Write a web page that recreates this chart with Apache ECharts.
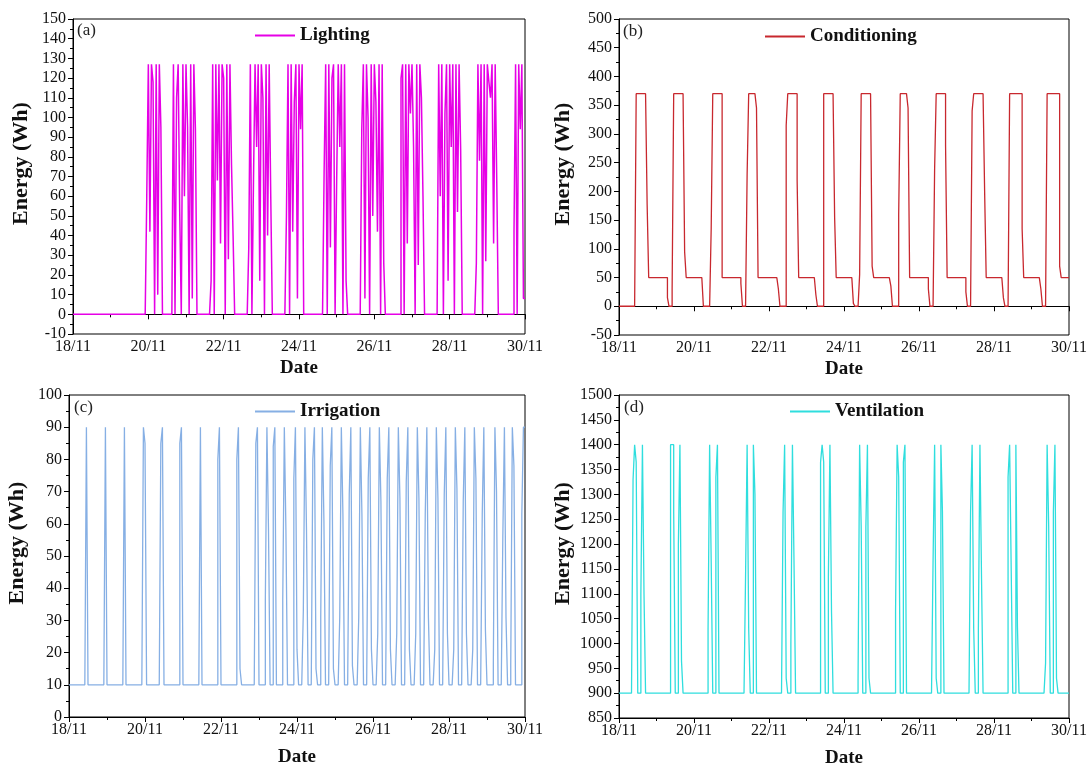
<!DOCTYPE html>
<html><head><meta charset="utf-8">
<script src="https://cdn.jsdelivr.net/npm/echarts@6/dist/echarts.min.js"></script>
<style>html,body{margin:0;padding:0;background:#fff}#c{width:1091px;height:765px}</style>
</head><body><div id="c"></div>
<script>
// ---- tick labels (x axis: days from 18/11, every 2 days) ----
const xTickLabels = ['18/11','20/11','22/11','24/11','26/11','28/11','30/11'];

// ---- hourly energy values (Wh), one row per day 18/11 .. 29/11, hours 0..23 ----
const lighting = [
  [0,0,0,0,0,0,0,0,0,0,0,0,0,0,0,0,0,0,0,0,0,0,0,0],
  [0,0,0,0,0,0,0,0,0,0,0,0,0,0,0,0,0,0,0,0,0,0,0,60],
  [127,42,127,118,0,127,10,127,95,0,0,0,0,0,0,0,127,0,110,127,52,0,127,60],
  [127,95,0,127,8,127,94,0,0,0,0,0,0,0,0,0,17,127,0,127,68,127,36,127],
  [120,0,127,28,127,76,40,0,0,0,0,0,0,0,0,0,34,127,0,68,127,85,127,17],
  [127,110,0,127,40,127,60,0,0,0,0,0,0,0,0,0,50,127,0,127,42,108,127,8],
  [127,94,127,0,0,0,0,0,0,0,0,0,0,0,0,0,72,127,0,127,34,120,127,0],
  [68,127,85,127,0,127,17,0,0,0,0,0,0,0,0,0,94,127,8,127,100,0,127,50],
  [127,108,42,127,0,127,26,0,0,0,0,0,0,0,0,0,0,120,127,0,127,36,127,102],
  [127,85,0,127,25,127,110,60,0,0,0,0,0,0,0,0,0,127,60,127,0,102,127,17],
  [127,85,127,0,127,52,127,84,0,0,0,0,0,0,0,0,0,26,127,78,127,0,127,27],
  [127,118,110,127,36,127,68,0,0,0,0,0,0,0,0,0,0,42,127,0,127,94,127,8]
];
const conditioning = [
  [0,0,0,0,0,0,0,0,0,0,0,370,370,370,370,370,370,370,178,50,50,50,50,50],
  [50,50,50,50,50,50,50,15,0,0,30,370,370,370,370,370,370,370,95,50,50,50,50,50],
  [50,50,50,50,50,50,0,0,0,0,0,135,370,370,370,370,370,370,50,50,50,50,50,50],
  [50,50,50,50,50,50,40,0,0,0,230,370,370,370,370,370,345,50,50,50,50,50,50,50],
  [50,50,50,50,50,50,30,0,0,0,0,315,370,370,370,370,370,370,220,50,50,50,50,50],
  [50,50,50,50,50,50,20,0,0,0,0,370,370,370,370,370,370,370,155,50,50,50,50,50],
  [50,50,50,50,50,50,5,0,0,0,55,370,370,370,370,370,370,370,70,50,50,50,50,50],
  [50,50,50,50,50,50,35,0,0,0,0,160,370,370,370,370,370,345,50,50,50,50,50,50],
  [50,50,50,50,50,50,30,0,0,0,240,370,370,370,370,370,370,280,50,50,50,50,50,50],
  [50,50,50,50,50,50,25,0,0,0,340,370,370,370,370,370,370,370,200,50,50,50,50,50],
  [50,50,50,50,50,50,15,0,0,0,370,370,370,370,370,370,370,370,135,50,50,50,50,50],
  [50,50,50,50,50,50,30,0,0,0,370,370,370,370,370,370,370,370,70,50,50,50,50,50]
];
const irrigation = [
  [10,10,10,10,10,10,10,10,10,10,10,90,10,10,10,10,10,10,10,10,10,10,10,90],
  [10,10,10,10,10,10,10,10,10,10,10,90,10,10,10,10,10,10,10,10,10,10,10,90],
  [85,10,10,10,10,10,10,10,10,10,85,90,10,10,10,10,10,10,10,10,10,10,85,90],
  [10,10,10,10,10,10,10,10,10,10,10,90,10,10,10,10,10,10,10,10,10,10,80,90],
  [10,10,10,10,10,10,10,10,10,10,80,90,15,10,10,10,10,10,10,10,10,10,85,90],
  [10,10,10,10,36,90,58,10,10,84,90,10,10,10,10,36,90,58,10,10,10,10,74,90],
  [21,10,10,10,33,90,58,10,10,10,80,90,15,10,10,31,90,61,10,10,10,78,90,15],
  [10,10,10,31,90,63,10,10,10,69,90,16,10,10,10,31,90,63,10,10,10,74,90,21],
  [10,10,10,26,90,67,10,10,10,74,90,21,10,10,10,26,90,68,10,10,10,73,90,21],
  [10,10,10,26,90,68,10,10,10,63,90,31,10,10,10,21,90,68,10,10,10,69,90,26],
  [10,10,10,21,90,71,10,10,10,67,90,26,10,10,10,21,90,74,10,10,10,63,90,27],
  [10,10,10,10,16,90,70,10,10,10,56,90,31,10,10,16,90,78,10,10,10,10,63,90]
];
const ventilation = [
  [900,900,900,900,900,900,900,900,900,1330,1400,1365,900,900,1100,1400,1100,900,900,900,900,900,900,900],
  [900,900,900,900,900,900,900,900,900,1400,1400,1265,900,900,1200,1400,965,900,900,900,900,900,900,900],
  [900,900,900,900,900,900,900,900,900,1030,1400,1165,900,900,1335,1400,900,900,900,900,900,900,900,900],
  [900,900,900,900,900,900,900,900,900,1135,1400,1030,900,900,1400,1300,900,900,900,900,900,900,900,900],
  [900,900,900,900,900,900,900,900,900,1265,1400,930,900,900,1000,1400,1165,900,900,900,900,900,900,900],
  [900,900,900,900,900,900,900,900,900,1365,1400,1365,900,900,1135,1400,1065,900,900,900,900,900,900,900],
  [900,900,900,900,900,900,900,900,900,930,1400,1235,900,900,1235,1400,930,900,900,900,900,900,900,900],
  [900,900,900,900,900,900,900,900,900,1065,1400,1335,900,900,1365,1400,900,900,900,900,900,900,900,900],
  [900,900,900,900,900,900,900,900,900,1165,1400,930,900,900,1400,1265,900,900,900,900,900,900,900,900],
  [900,900,900,900,900,900,900,900,900,1265,1400,1030,900,900,1030,1400,1135,900,900,900,900,900,900,900],
  [900,900,900,900,900,900,900,900,900,1335,1400,1150,900,900,1400,1035,900,900,900,900,900,900,900,900],
  [900,900,900,900,900,900,900,900,900,960,1400,1235,900,900,1265,1400,930,900,900,900,900,900,900,900]
];

const seriesNames = ['Lighting','Conditioning','Irrigation','Ventilation'];
const panelLabels = ['(a)','(b)','(c)','(d)'];
const yMin = [-10, -50, 0, 850];
const yMax = [150, 500, 100, 1500];
const yStep = [10, 50, 10, 50];
const colors = ['#E600E6','#C8282E','#86AFE4','#2FDEDE'];

// hourly rows -> staircase points (x in days from 18/11 00:00); each value held for its hour
function toSteps(days) {
  const flat = [].concat(...days);
  const out = [];
  flat.forEach((v, i) => { out.push([i / 24, v]); out.push([(i + 1) / 24, v]); });
  return out;
}
const allData = [lighting, conditioning, irrigation, ventilation].map(toSteps);

const FONT = 'Liberation Serif';
const grids = [
  {left: 73, top: 19, width: 452, height: 315},
  {left: 619, top: 19, width: 450, height: 316},
  {left: 69, top: 395, width: 456, height: 322},
  {left: 619, top: 395, width: 450, height: 323}
];
const legendPos = [
  {left: 255, top: 26}, {left: 765, top: 27}, {left: 255, top: 402}, {left: 790, top: 402}
];
const labelPos = [
  {left: 77, top: 22}, {left: 623, top: 23}, {left: 74, top: 399}, {left: 624, top: 399}
];

const option = {
  animation: false,
  backgroundColor: '#fff',
  grid: grids.map(g => Object.assign({show: true, borderColor: '#000', borderWidth: 1,
    backgroundColor: 'transparent', containLabel: false, outerBoundsMode: 'none'}, g)),
  title: panelLabels.map((t, i) => ({
    text: t, left: labelPos[i].left, top: labelPos[i].top, padding: 0,
    textStyle: {fontFamily: FONT, fontSize: 17, fontWeight: 'normal', color: '#222'}
  })),
  legend: seriesNames.map((n, i) => ({
    data: [{name: n, icon: 'rect', itemStyle: {color: colors[i]}}],
    left: legendPos[i].left, top: legendPos[i].top, padding: 0,
    itemWidth: 40, itemHeight: 2, itemGap: 0,
    textStyle: {fontFamily: FONT, fontSize: 19, fontWeight: 'bold', color: '#111'}
  })),
  xAxis: grids.map((g, i) => ({
    type: 'value', gridIndex: i, min: 0, max: 12, interval: 2,
    name: 'Date', nameLocation: 'middle', nameGap: i < 2 ? 25 : 31,
    nameTextStyle: {fontFamily: FONT, fontSize: 19, fontWeight: 'bold', color: '#111'},
    axisLine: {show: true, lineStyle: {color: '#000', width: 1}},
    axisTick: {show: true, length: 5, lineStyle: {color: '#000'}},
    minorTick: {show: true, splitNumber: 2, length: 3, lineStyle: {color: '#000'}},
    axisLabel: {fontFamily: FONT, fontSize: 16, color: '#111', margin: 5,
      formatter: v => xTickLabels[Math.round(v / 2)]},
    splitLine: {show: false}
  })),
  yAxis: grids.map((g, i) => ({
    type: 'value', gridIndex: i, min: yMin[i], max: yMax[i], interval: yStep[i],
    name: 'Energy (Wh)', nameLocation: 'middle', nameRotate: 90,
    nameGap: i % 2 === 0 ? 41 : 45,
    nameTextStyle: {fontFamily: FONT, fontSize: 22, fontWeight: 'bold', color: '#111',
      padding: [0, 0, 0, 26]},
    axisLine: {show: true, lineStyle: {color: '#000', width: 1}},
    axisTick: {show: true, length: 5, lineStyle: {color: '#000'}},
    minorTick: {show: true, splitNumber: 2, length: 3, lineStyle: {color: '#000'}},
    axisLabel: {fontFamily: FONT, fontSize: 16, color: '#111', margin: 7,
      formatter: v => String(v)},
    splitLine: {show: false}
  })),
  series: seriesNames.map((n, i) => ({
    name: n, type: 'line', xAxisIndex: i, yAxisIndex: i,
    data: allData[i], symbol: 'none', showSymbol: false,
    lineStyle: {color: colors[i], width: i === 0 ? 1.5 : 1.3}, itemStyle: {color: colors[i]}
  }))
};

const chart = echarts.init(document.getElementById('c'), null, {renderer: 'canvas'});
chart.setOption(option);
</script>
</body></html>
